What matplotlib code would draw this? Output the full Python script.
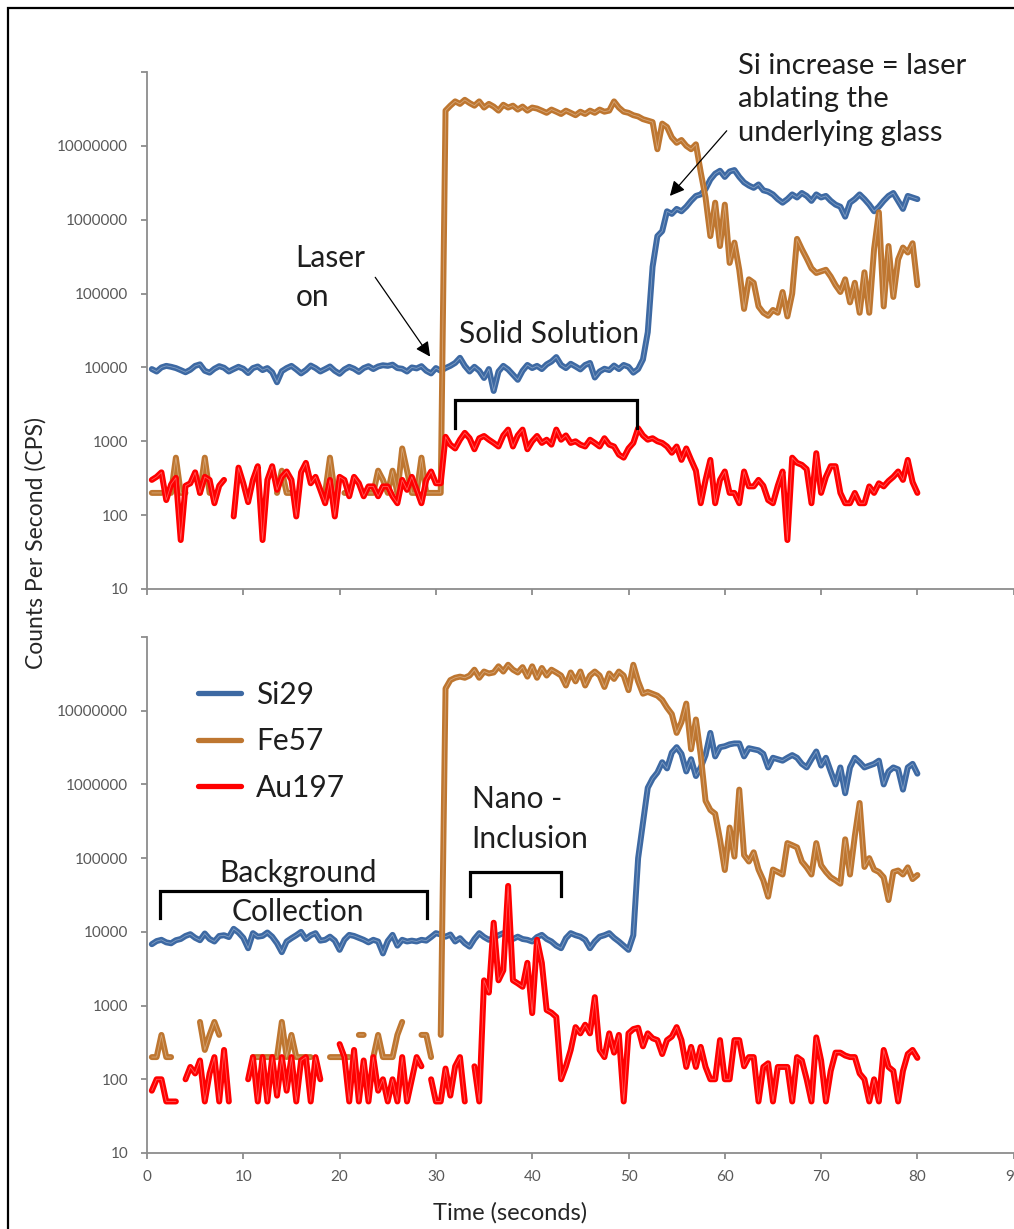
import numpy as np
import matplotlib
matplotlib.use("Agg")
import matplotlib.pyplot as plt
import matplotlib.patheffects as pe
from matplotlib.colors import to_rgb
from matplotlib.lines import Line2D
from matplotlib.patches import Rectangle
from matplotlib.ticker import NullLocator

nan = np.nan

# acquisition time of each reading (0.5 s dwell)
time_s = np.arange(1, 161) * 0.5

# ---- run 1: gold in solid solution ----
si29_a = [
    9500, 8800, 10000, 10500, 10200, 9800, 9200, 8600, 9300, 10500, 11000, 9000, 8500, 9600, 10400, 9900, 8800, 9500, 10200, 9600,
    8400, 9800, 10300, 9200, 9800, 8600, 6300, 8900, 9800, 10500, 9400, 8300, 9200, 10600, 9800, 8800, 9500, 10300, 9000, 8200,
    9400, 10200, 9600, 8700, 9800, 10400, 9500, 10300, 10700, 10500, 10900, 9800, 9600, 8800, 10000, 9700, 10400, 9000, 8300, 9800,
    9000, 9800, 10500, 11500, 13500, 10500, 8800, 10200, 9000, 7200, 9500, 4800, 8800, 10500, 9400, 8000, 6800, 9000, 10800, 9800,
    10500, 9500, 11000, 12000, 13800, 10800, 9800, 11200, 10300, 9400, 10800, 11500, 7300, 8800, 9600, 9200, 10600, 9500, 10800, 10200,
    8500, 9500, 12800, 30000, 230000, 600000, 700000, 1300000, 1200000, 1400000, 1300000, 1500000, 1800000, 2100000, 2200000, 2600000, 3500000, 4200000, 4600000, 3800000,
    4500000, 4700000, 3800000, 3200000, 2900000, 2700000, 3000000, 2500000, 2400000, 2200000, 1900000, 1700000, 1900000, 2200000, 2000000, 2300000, 2100000, 1800000, 2200000, 2000000,
    2100000, 1800000, 1600000, 1500000, 1100000, 1700000, 1900000, 2200000, 1900000, 1600000, 1300000, 1500000, 1800000, 2100000, 2300000, 1800000, 1400000, 2100000, 2000000, 1900000,
]
fe57_a = [
    200, 200, 200, nan, 200, 600, 200, 200, nan, nan, 200, 600, 200, 200, nan, nan, nan, nan, nan, nan,
    nan, nan, nan, nan, nan, nan, 200, 400, 200, 200, nan, nan, nan, nan, nan, nan, 200, 600, 200, nan,
    200, 200, nan, nan, nan, 200, 200, 400, 300, 200, 400, 200, 800, 400, 200, 200, 600, 200, 200, 200,
    200, 30000000, 35000000, 40000000, 37000000, 42000000, 38000000, 35000000, 40000000, 33000000, 37000000, 34000000, 30000000, 36000000, 33000000, 35000000, 31000000, 34000000, 30000000, 33000000,
    32000000, 30000000, 28000000, 31000000, 29000000, 27000000, 30000000, 28000000, 26000000, 29000000, 27000000, 30000000, 28000000, 31000000, 29000000, 30000000, 40000000, 33000000, 29000000, 28000000,
    26000000, 25000000, 23000000, 22000000, 21000000, 9000000, 20000000, 18000000, 13000000, 11000000, 12000000, 10000000, 9000000, 10500000, 4400000, 2000000, 600000, 1700000, 440000, 1600000,
    260000, 490000, 210000, 62000, 156000, 140000, 67000, 55000, 50000, 60000, 55000, 105000, 49000, 100000, 550000, 400000, 300000, 220000, 190000, 200000,
    210000, 170000, 130000, 105000, 156000, 76000, 140000, 55000, 194000, 55000, 400000, 1260000, 67000, 440000, 90000, 290000, 420000, 360000, 480000, 130000,
]
au197_a = [
    300, 330, 380, 160, 260, 320, 46, 250, 270, 380, 200, 330, 300, 145, 250, 300, nan, 96, 440, 270,
    150, 300, 460, 46, 300, 460, 220, 330, 390, 300, 96, 380, 510, 270, 330, 220, 145, 300, 96, 330,
    300, 180, 330, 270, 180, 245, 245, 180, 245, 245, 180, 145, 300, 220, 330, 220, 145, 300, 390, 270,
    270, 1150, 900, 800, 1050, 1300, 1100, 780, 1100, 1180, 1050, 950, 850, 1200, 1440, 850, 1200, 1440, 780, 1000,
    1180, 950, 1050, 900, 1440, 1050, 1200, 950, 1000, 900, 850, 1050, 950, 850, 1100, 900, 850, 660, 600, 800,
    950, 1500, 1200, 1050, 1100, 1000, 950, 850, 700, 850, 560, 800, 560, 400, 145, 300, 560, 145, 300, 390,
    200, 200, 145, 390, 245, 245, 300, 250, 160, 145, 250, 390, 46, 600, 510, 480, 420, 145, 690, 200,
    330, 460, 460, 200, 145, 145, 200, 145, 145, 245, 200, 270, 245, 290, 330, 390, 300, 560, 280, 200,
]

# ---- run 2: gold nano-inclusion ----
si29_b = [
    6800, 7500, 7800, 7200, 7000, 7700, 8000, 8800, 9300, 8300, 7700, 9500, 8000, 7400, 8800, 9000, 8500, 11000, 9800, 8300,
    6000, 9600, 8600, 8800, 9800, 8600, 7000, 5300, 7400, 8200, 9000, 10000, 8000, 9000, 9600, 7600, 7800, 8600, 7600, 5700,
    7800, 9100, 8800, 8300, 7800, 7200, 7800, 7400, 5100, 7500, 9100, 6500, 7800, 7400, 7600, 7400, 7800, 7600, 8500, 9600,
    9200, 8600, 9200, 7400, 8200, 7000, 6300, 8000, 9600, 8500, 7800, 8300, 9000, 9600, 8800, 8000, 8600, 8000, 7800, 7400,
    8500, 9100, 8000, 7400, 6500, 6000, 8200, 9600, 9000, 8600, 7800, 6000, 7400, 8600, 9000, 9600, 8300, 7400, 6500, 5700,
    9000, 100000, 300000, 900000, 1200000, 1450000, 2000000, 1650000, 2700000, 3200000, 2600000, 1500000, 2200000, 1300000, 1700000, 2500000, 5000000, 2400000, 3200000, 3300000,
    3500000, 3600000, 3600000, 2400000, 3100000, 3000000, 2900000, 2600000, 1700000, 2300000, 2200000, 2100000, 2300000, 2500000, 2300000, 1900000, 1700000, 2200000, 2800000, 1800000,
    2300000, 1500000, 1000000, 1700000, 760000, 1700000, 2300000, 2000000, 1700000, 1800000, 1900000, 2100000, 1000000, 1500000, 1700000, 1600000, 850000, 1700000, 1900000, 1400000,
]
fe57_b = [
    200, 200, 400, 200, 200, nan, nan, nan, nan, nan, 600, 250, 400, 600, 400, nan, nan, nan, nan, nan,
    nan, 200, 200, 200, 200, 200, 200, 600, 200, 400, 200, 200, 200, 200, nan, nan, nan, 200, 200, 200,
    200, 200, nan, 400, 400, nan, 200, 400, 200, 200, 200, 400, 600, nan, nan, nan, 400, 400, 200, nan,
    400, 20000000, 26000000, 28000000, 29000000, 28000000, 30000000, 36000000, 28000000, 34000000, 32000000, 33000000, 40000000, 34000000, 42000000, 36000000, 33000000, 39000000, 29000000, 40000000,
    28000000, 38000000, 30000000, 36000000, 33000000, 30000000, 22000000, 33000000, 25000000, 34000000, 22000000, 30000000, 34000000, 30000000, 21000000, 32000000, 27000000, 34000000, 30000000, 19000000,
    42000000, 25000000, 17000000, 18000000, 17000000, 16000000, 14000000, 11000000, 9000000, 5000000, 7000000, 12500000, 3000000, 7600000, 2500000, 600000, 450000, 400000, 180000, 69000,
    260000, 105000, 850000, 110000, 90000, 120000, 70000, 50000, 30000, 70000, 65000, 60000, 160000, 150000, 140000, 90000, 75000, 60000, 160000, 80000,
    65000, 55000, 50000, 45000, 180000, 60000, 200000, 560000, 76000, 100000, 70000, 65000, 55000, 27000, 65000, 68000, 60000, 75000, 52000, 59000,
]
au197_b = [
    70, 100, 100, 50, 50, 50, nan, 100, 147, 120, 180, 50, 120, 200, 50, 250, 50, nan, nan, nan,
    100, 200, 50, 200, 50, 200, 60, 200, 70, 200, 50, 180, 200, 50, 200, 100, nan, nan, nan, 300,
    200, 50, 250, 50, 180, 50, 200, 70, 100, 50, 100, 50, 200, 50, 100, 200, 150, nan, 100, 50,
    50, 140, 60, 150, 200, 50, nan, 150, 50, 2200, 1500, 13300, 2200, 3000, 42000, 2200, 2000, 1800, 3800, 790,
    7800, 3800, 870, 800, 700, 100, 150, 250, 510, 420, 550, 420, 1300, 250, 200, 420, 230, 400, 50, 420,
    480, 500, 280, 420, 360, 340, 220, 340, 380, 510, 340, 147, 275, 147, 275, 147, 100, 100, 340, 100,
    100, 340, 340, 150, 200, 200, 50, 147, 165, 50, 147, 147, 147, 50, 200, 180, 100, 50, 370, 180,
    50, 130, 230, 230, 210, 200, 200, 120, 100, 50, 100, 50, 250, 147, 130, 50, 130, 220, 250, 195,
]

series_names = ["Si29", "Fe57", "Au197"]
series_colors = ["#3D69A3", "#BE7630", "#FF0000"]

y_ticks = [10, 100, 1000, 10000, 100000, 1000000, 10000000, 100000000]
y_tick_labels = ["10", "100", "1000", "10000", "100000", "1000000", "10000000", ""]
x_ticks = [0, 10, 20, 30, 40, 50, 60, 70, 80, 90]
x_tick_labels = ["0", "10", "20", "30", "40", "50", "60", "70", "80", "90"]

plt.rcParams["font.family"] = ["Lato", "DejaVu Sans"]

W, H = 1014, 1229
fig = plt.figure(figsize=(W / 100, H / 100), dpi=100)
fig.patch.set_facecolor("white")


def add_panel(left, top, right, bottom):
    return fig.add_axes([left / W, 1 - bottom / H, (right - left) / W, (bottom - top) / H])


ax_top = add_panel(147, 72, 1013.7, 589)
ax_bot = add_panel(147, 637, 1013.7, 1153)

axis_grey = "#8C8C8C"
for ax in (ax_top, ax_bot):
    ax.set_yscale("log")
    ax.set_ylim(10, 1e8)
    ax.set_xlim(0, 90)
    ax.set_yticks(y_ticks)
    ax.set_yticklabels(y_tick_labels)
    ax.yaxis.set_minor_locator(NullLocator())
    ax.set_xticks(x_ticks)
    ax.set_xticklabels(x_tick_labels)
    for side in ("top", "right"):
        ax.spines[side].set_visible(False)
    for side in ("left", "bottom"):
        ax.spines[side].set_color(axis_grey)
        ax.spines[side].set_linewidth(1.3)
    ax.tick_params(direction="out", length=4.5, width=1.3, color=axis_grey,
                   labelsize=11, labelcolor="#595959")
    ax.tick_params(axis="y", pad=9)
    ax.tick_params(axis="x", pad=8)
    ax.set_facecolor("none")
ax_top.tick_params(axis="x", labelbottom=False)


def light(color, amount=0.5):
    r, g, b = to_rgb(color)
    return (r + (1 - r) * amount, g + (1 - g) * amount, b + (1 - b) * amount)


def draw_trace(ax, values, color):
    # thick coloured stroke with a pale hairline core
    ax.plot(time_s, values, color=light(color, 0.35), lw=0.6,
            solid_joinstyle="round", solid_capstyle="round",
            path_effects=[pe.Stroke(linewidth=4.3, foreground=color,
                                    joinstyle="round", capstyle="round"),
                          pe.Normal()])


for values, color in zip((si29_a, fe57_a, au197_a), series_colors):
    draw_trace(ax_top, values, color)
for values, color in zip((si29_b, fe57_b, au197_b), series_colors):
    draw_trace(ax_bot, values, color)

note_color = "#1E1E1E"
note_size = 21.5
note_spacing = 1.5
arrow_kw = dict(arrowstyle="-|>", color="black", lw=0.9, mutation_scale=22,
                shrinkA=0, shrinkB=0)


def bracket(ax, x0, x1, y_top, y_end):
    ax.plot([x0, x0, x1, x1], [y_end, y_top, y_top, y_end], color="black",
            lw=2.3, solid_joinstyle="miter", clip_on=False)


# top panel notes
ax_top.text(15.4, 1.65e5, "Laser\non", ha="left", va="center", linespacing=note_spacing,
            fontsize=note_size, color=note_color)
ax_top.annotate("", xy=(29.4, 1.4e4), xytext=(23.7, 1.66e5), arrowprops=arrow_kw)
ax_top.text(41.8, 2.8e4, "Solid Solution", ha="center", va="center",
            fontsize=note_size, color=note_color)
bracket(ax_top, 32.0, 50.9, 3660, 1530)
ax_top.text(61.4, 4.3e7, "Si increase = laser\nablating the\nunderlying glass",
            ha="left", va="center", linespacing=1.36, fontsize=21, color=note_color)
ax_top.annotate("", xy=(54.3, 2.1e6), xytext=(60.2, 1.6e7), arrowprops=arrow_kw)

# bottom panel notes
ax_bot.text(15.7, 3.4e4, "Background\nCollection", ha="center", va="center",
            linespacing=note_spacing, fontsize=note_size, color=note_color)
bracket(ax_bot, 1.35, 29.1, 35900, 15500)
ax_bot.text(33.7, 3.4e5, "Nano -\nInclusion", ha="left", va="center",
            linespacing=note_spacing, fontsize=note_size, color=note_color)
bracket(ax_bot, 33.5, 43.0, 64000, 31000)

handles = [Line2D([], [], color=c, lw=3.8, solid_capstyle="round") for c in series_colors]
ax_bot.legend(handles, series_names, loc="upper left", bbox_to_anchor=(0.059, 0.915),
              frameon=False, fontsize=note_size, handlelength=1.45, handletextpad=0.5,
              labelspacing=0.62, borderpad=0, borderaxespad=0, labelcolor=note_color)

fig.text(36 / W, 1 - 543 / H, "Counts Per Second (CPS)", rotation=90,
         ha="center", va="center", fontsize=16.5, color="#262626")
fig.text(510 / W, 1 - 1213 / H, "Time (seconds)", ha="center", va="center",
         fontsize=17, color="#262626")

# outer frame of the chart area
fig.add_artist(Rectangle((8 / W, -0.05), 1.2, 1.05 - 8 / H, transform=fig.transFigure,
                         fill=False, ec="black", lw=1.6))

fig.savefig("out.png", dpi=100)
